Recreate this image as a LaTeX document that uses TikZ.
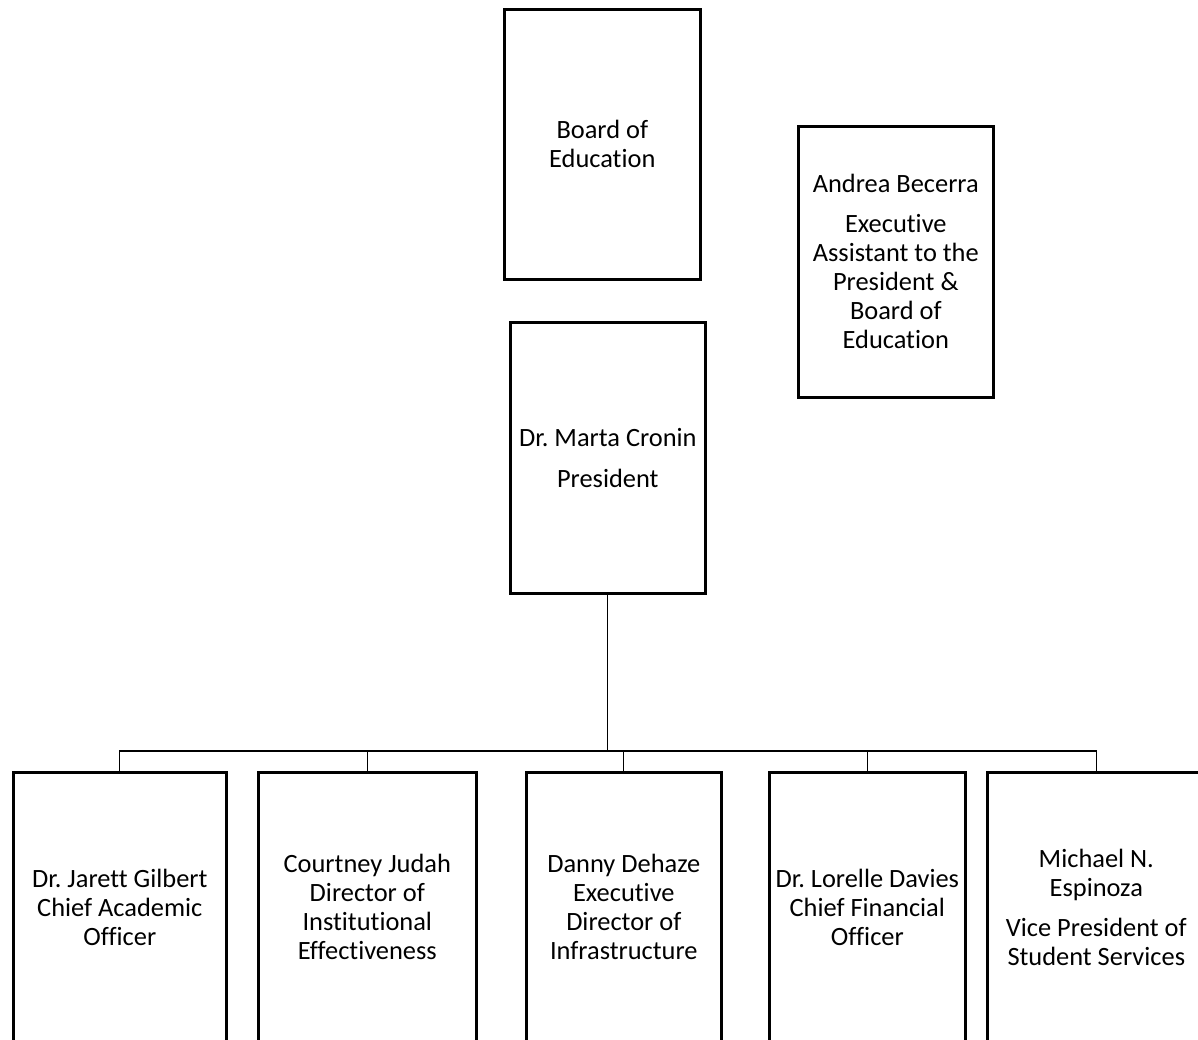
\documentclass[tikz,border=0pt]{standalone}
\usepackage{fontspec}
\setmainfont{Carlito}[Ligatures={NoCommon}]
\begin{document}
\frenchspacing
\begin{tikzpicture}[x=1pt,y=-1pt,
  box/.style={draw=black,line width=2.6pt,inner sep=0pt,align=center,
    font=\fontsize{26.4}{29}\selectfont,anchor=north west},
  conn/.style={draw=black,line width=1.3pt}]
\useasboundingbox (0,0) rectangle (1198,1039);
\clip (0,0) rectangle (1198,1039);
\node[box,minimum width=196pt,minimum height=270pt] (board) at (503,8) {Board of\\Education};
\node[box,minimum width=195pt,minimum height=271pt] (asst) at (797,125)
  {Andrea Becerra\\[11pt]Executive\\Assistant to the\\President \&\\Board of\\Education};
\node[box,minimum width=195pt,minimum height=271pt] (pres) at (509,321)
  {Dr. Marta Cronin\\[12pt]President};
\node[box,minimum width=213pt,minimum height=270pt] (c1) at (12,771)
  {Dr. Jarett Gilbert\\Chief Academic\\Officer};
\node[box,minimum width=218pt,minimum height=270pt] (c2) at (257,771)
  {Courtney Judah\\Director of\\Institutional\\Effectiveness};
\node[box,minimum width=195pt,minimum height=270pt] (c3) at (525,771)
  {Danny Dehaze\\Executive\\Director of\\Infrastructure};
\node[box,minimum width=196pt,minimum height=270pt] (c4) at (768,771)
  {Dr. Lorelle Davies\\Chief Financial\\Officer};
\node[box,minimum width=218pt,minimum height=270pt] (c5) at (986,771)
  {Michael N.\\Espinoza\\[11pt]Vice President of\\Student Services};
\coordinate (bus) at (pres.south |- 0,751);
\draw[conn] (pres.south) -- (bus);
\foreach \c in {c1,c2,c3,c4,c5}{\draw[conn] (bus) -| (\c.north);}
\end{tikzpicture}
\end{document}
